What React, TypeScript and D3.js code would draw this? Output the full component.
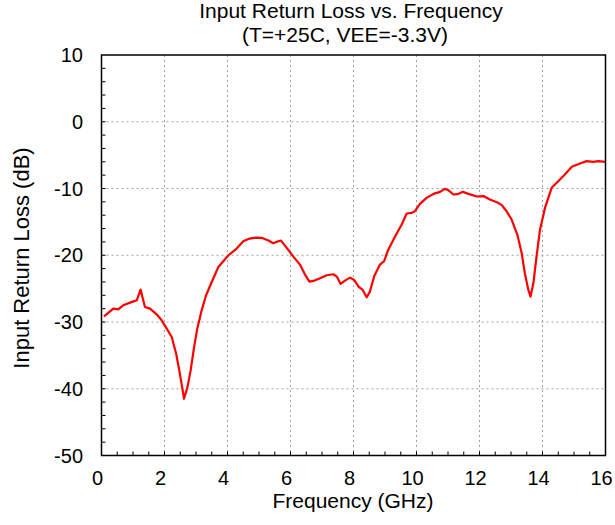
import React, { useEffect, useRef } from "react";
import * as d3 from "d3";

const freqGHz = [
  0.08, 0.375, 0.53, 0.69, 0.905, 1.12, 1.24, 1.38, 1.54, 1.75, 1.91, 2.07, 2.23, 2.37, 2.47, 2.56, 2.62,
  2.73, 2.83, 2.94, 3.04, 3.18, 3.32, 3.5, 3.71, 4.03, 4.29, 4.5, 4.7, 4.9, 5.1, 5.3, 5.45, 5.55, 5.7,
  5.88, 6.09, 6.3, 6.46, 6.6, 6.73, 6.94, 7.15, 7.36, 7.47, 7.59, 7.73, 7.89, 8.02, 8.16, 8.29, 8.42,
  8.52, 8.66, 8.84, 8.97, 9.1, 9.32, 9.53, 9.69, 9.85, 9.95, 10.11, 10.32, 10.54, 10.75, 10.9, 11.01,
  11.17, 11.3, 11.47, 11.65, 11.91, 12.14, 12.33, 12.55, 12.7, 12.86, 13.02, 13.2, 13.34, 13.44, 13.55,
  13.62, 13.71, 13.81, 13.92, 14.08, 14.29, 14.5, 14.71, 14.93, 15.19, 15.4, 15.61, 15.77, 16.0,
];
const returnLossDb = [
  -29.15, -28.0, -28.1, -27.5, -27.1, -26.75, -25.15, -27.75, -28.0, -28.85, -29.75, -31.0, -32.25, -34.75,
  -37.25, -39.75, -41.5, -39.75, -37.25, -33.75, -31.0, -28.25, -26.0, -24.0, -21.75, -20.0, -19.0, -17.9,
  -17.5, -17.35, -17.4, -17.8, -18.2, -18.0, -17.8, -18.9, -20.2, -21.4, -22.9, -23.95, -23.85, -23.45,
  -23.0, -22.85, -23.2, -24.3, -23.8, -23.35, -23.7, -24.7, -25.2, -26.3, -25.45, -23.1, -21.4, -20.9,
  -19.2, -17.2, -15.4, -13.75, -13.65, -13.4, -12.3, -11.4, -10.8, -10.5, -10.05, -10.25, -10.9, -10.85,
  -10.5, -10.8, -11.2, -11.15, -11.65, -12.05, -12.45, -13.4, -14.65, -16.9, -19.7, -22.7, -25.2, -26.2,
  -24.2, -20.2, -16.2, -12.9, -9.9, -8.9, -7.9, -6.75, -6.25, -5.9, -6.0, -5.9, -6.0,
];
const xTicks = [0, 2, 4, 6, 8, 10, 12, 14, 16];
const yTicks = [10, 0, -10, -20, -30, -40, -50];
const titleLines = ["Input Return Loss vs. Frequency", "(T=+25C, VEE=-3.3V)"];
const xLabel = "Frequency (GHz)";
const yLabel = "Input Return Loss (dB)";

const W = 615;
const H = 525;
const M = { left: 101.5, right: 605.5, top: 55, bottom: 455.5 };
const FONT = "'Liberation Sans', Arial, sans-serif";

export default function App() {
  const ref = useRef<SVGSVGElement>(null);
  useEffect(() => {
    const svg = d3.select(ref.current);
    svg.selectAll("*").remove();
    const x = d3.scaleLinear().domain([0, 16]).range([M.left, M.right]);
    const y = d3.scaleLinear().domain([-50, 10]).range([M.bottom, M.top]);

    svg.append("rect").attr("width", W).attr("height", H).attr("fill", "#fff");

    const grid = svg.append("g").attr("stroke", "#a0a0a0").attr("stroke-width", 1).attr("stroke-dasharray", "2,3");
    xTicks.slice(1, -1).forEach((t) => {
      grid.append("line").attr("x1", x(t)).attr("x2", x(t)).attr("y1", M.top).attr("y2", M.bottom);
    });
    yTicks.slice(1, -1).forEach((t) => {
      grid.append("line").attr("y1", y(t)).attr("y2", y(t)).attr("x1", M.left).attr("x2", M.right);
    });

    // minor ticks
    const ticks = svg.append("g").attr("stroke", "#000").attr("stroke-width", 1);
    d3.range(0.5, 16, 0.5).forEach((t) => {
      ticks.append("line").attr("x1", x(t)).attr("x2", x(t)).attr("y1", M.bottom).attr("y2", M.bottom - 4);
    });
    d3.range(-48, 10, 2).forEach((t) => {
      ticks.append("line").attr("y1", y(t)).attr("y2", y(t)).attr("x1", M.left).attr("x2", M.left + 4);
    });

    const line = d3
      .line<number>()
      .x((_, i) => x(freqGHz[i]))
      .y((d) => y(d))
      .curve(d3.curveLinear);
    svg
      .append("path")
      .attr("d", line(returnLossDb))
      .attr("fill", "none")
      .attr("stroke", "#ff0000")
      .attr("stroke-width", 2.2)
      .attr("stroke-linejoin", "round");

    svg
      .append("rect")
      .attr("x", M.left)
      .attr("y", M.top)
      .attr("width", M.right - M.left)
      .attr("height", M.bottom - M.top)
      .attr("fill", "none")
      .attr("stroke", "#000")
      .attr("stroke-width", 1.5);

    const txt = svg.append("g").attr("font-family", FONT).attr("fill", "#000");
    xTicks.forEach((t) => {
      txt.append("text").attr("x", x(t) - 4).attr("y", 485).attr("text-anchor", "middle").attr("font-size", 20).text(String(t));
    });
    yTicks.forEach((t) => {
      txt
        .append("text")
        .attr("x", 83)
        .attr("y", y(t) + 7)
        .attr("text-anchor", "end")
        .attr("font-size", 20)
        .text(String(t));
    });
    txt.append("text").attr("x", 353).attr("y", 508).attr("text-anchor", "middle").attr("font-size", 21).text(xLabel);
    txt
      .append("text")
      .attr("transform", `translate(28.5,258) rotate(-90)`)
      .attr("text-anchor", "middle")
      .attr("font-size", 22)
      .text(yLabel);
    const titleX = [351, 345];
    titleLines.forEach((s, i) => {
      txt.append("text").attr("x", titleX[i]).attr("y", 17.5 + i * 24).attr("text-anchor", "middle").attr("font-size", 21).text(s);
    });
  }, []);
  return <svg ref={ref} width={W} height={H} style={{ position: "absolute", left: 0, top: 0 }} />;
}
